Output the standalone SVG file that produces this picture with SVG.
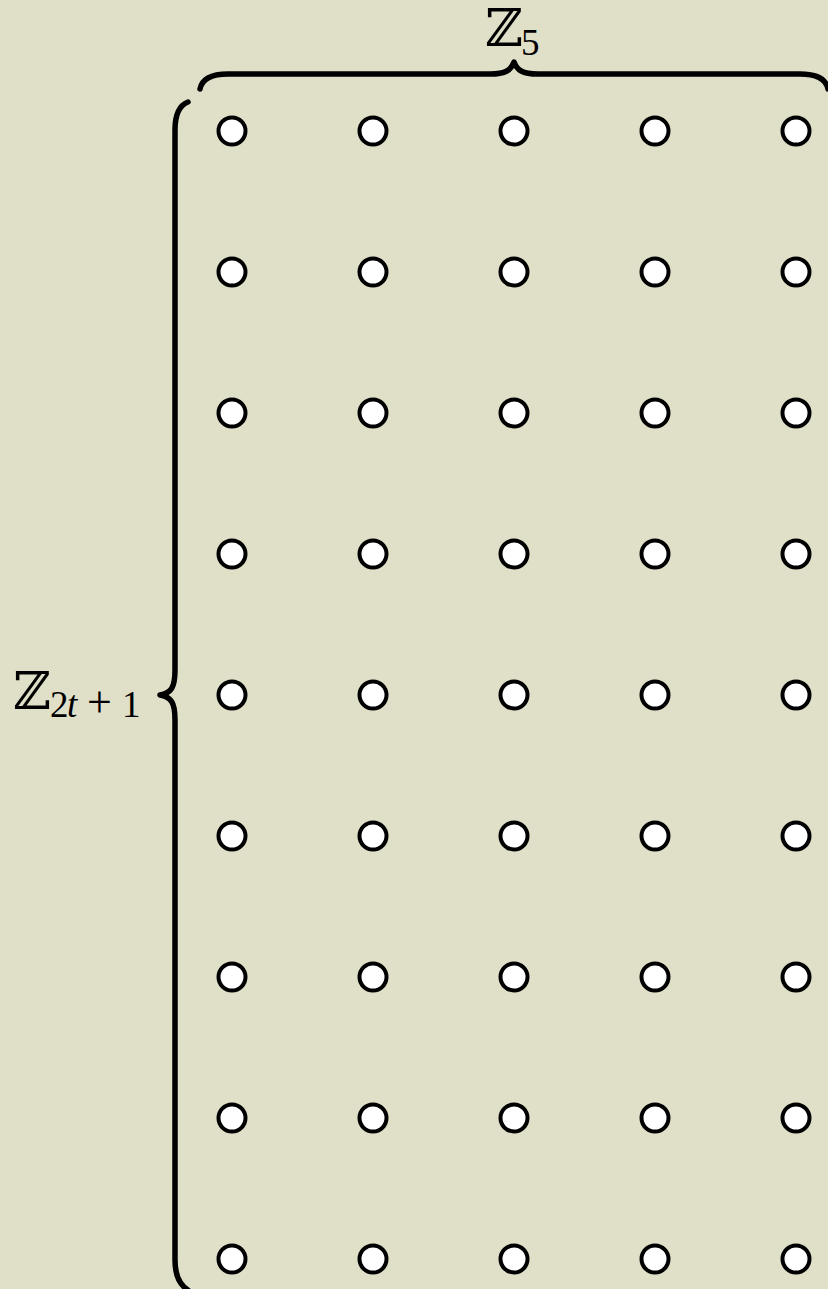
<svg xmlns="http://www.w3.org/2000/svg" width="828" height="1289" viewBox="0 0 828 1289">
<style>
.bg{fill:#e0dfc8}
.node{fill:#ffffff;stroke:#000;stroke-width:4}
.brace{fill:none;stroke:#000;stroke-width:5.5;stroke-linecap:round;stroke-linejoin:round}
.bb{font-family:"DejaVu Serif","DejaVu Sans",serif;fill:#000}
.sub{font-family:"Liberation Serif",serif;fill:#000}
</style>
<defs>
<circle id="c" r="13.5" class="node"/>
</defs>
<rect class="bg" x="0" y="0" width="828" height="1289"/>
<g id="connectors">
<path class="brace" d="M200,89 Q203,74 228,74 L490,74 C506,74 511,70 514,62 C517,70 522,74 538,74 L800,74 Q825,74 828,89"/>
<path class="brace" d="M188,102 Q175,107 175,130 L175,670 C175,688 171,693 160,695 C171,697 175,702 175,720 L175,1260 Q175,1282 188,1290"/>
</g>
<g id="label-z5">
<text class="bb" x="485" y="46" font-size="52">ℤ</text>
<text class="sub" x="521" y="55" font-size="37">5</text>
</g>
<g id="label-z2t1">
<text class="bb" x="13" y="709" font-size="52">ℤ</text>
<text class="sub" y="717" font-size="37"><tspan x="50">2</tspan><tspan x="67" font-style="italic">t</tspan><tspan x="87" font-size="44">+</tspan><tspan x="122">1</tspan></text>
</g>
<g id="nodes">
<g id="r0"><use href="#c" x="232" y="131"/><use href="#c" x="373" y="131"/><use href="#c" x="514" y="131"/><use href="#c" x="655" y="131"/><use href="#c" x="796" y="131"/></g>
<g id="r1"><use href="#c" x="232" y="272"/><use href="#c" x="373" y="272"/><use href="#c" x="514" y="272"/><use href="#c" x="655" y="272"/><use href="#c" x="796" y="272"/></g>
<g id="r2"><use href="#c" x="232" y="413"/><use href="#c" x="373" y="413"/><use href="#c" x="514" y="413"/><use href="#c" x="655" y="413"/><use href="#c" x="796" y="413"/></g>
<g id="r3"><use href="#c" x="232" y="554"/><use href="#c" x="373" y="554"/><use href="#c" x="514" y="554"/><use href="#c" x="655" y="554"/><use href="#c" x="796" y="554"/></g>
<g id="r4"><use href="#c" x="232" y="695"/><use href="#c" x="373" y="695"/><use href="#c" x="514" y="695"/><use href="#c" x="655" y="695"/><use href="#c" x="796" y="695"/></g>
<g id="r5"><use href="#c" x="232" y="836"/><use href="#c" x="373" y="836"/><use href="#c" x="514" y="836"/><use href="#c" x="655" y="836"/><use href="#c" x="796" y="836"/></g>
<g id="r6"><use href="#c" x="232" y="977"/><use href="#c" x="373" y="977"/><use href="#c" x="514" y="977"/><use href="#c" x="655" y="977"/><use href="#c" x="796" y="977"/></g>
<g id="r7"><use href="#c" x="232" y="1118"/><use href="#c" x="373" y="1118"/><use href="#c" x="514" y="1118"/><use href="#c" x="655" y="1118"/><use href="#c" x="796" y="1118"/></g>
<g id="r8"><use href="#c" x="232" y="1259"/><use href="#c" x="373" y="1259"/><use href="#c" x="514" y="1259"/><use href="#c" x="655" y="1259"/><use href="#c" x="796" y="1259"/></g>
</g>
</svg>
